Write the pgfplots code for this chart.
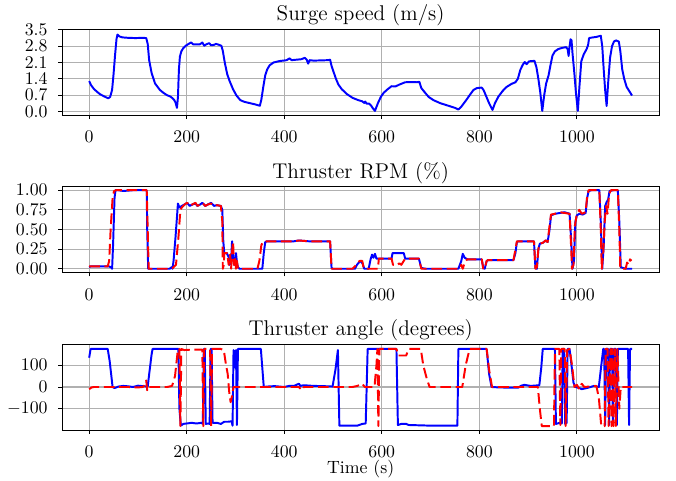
\documentclass[border=0pt]{standalone}
\usepackage{pgfplots}
\pgfplotsset{compat=1.18}
\definecolor{gridgray}{RGB}{176,176,176}
\pgfplotsset{
  every axis title/.style={at={(0.5,1)},anchor=base,yshift=4.5pt,font=\large},
  every axis x label/.style={at={(axis description cs:0.5,0)},anchor=base,yshift=-24.6pt,inner sep=0pt},
  mpl/.style={scale only axis, width=335.98pt, xmin=-55.7, xmax=1169,
    xtick={0,200,400,600,800,1000}, grid=major,
    /pgf/number format/1000 sep={},
    major grid style={gridgray, line width=0.6pt},
    axis line style={line width=0.5pt, black},
    tick align=outside, xtick pos=left, ytick pos=left,
    major tick length=2.1pt, tick style={black, line width=0.5pt},
    xticklabel style={anchor=base, yshift=-13.3pt, inner sep=0pt},
    yticklabel style={xshift=-2.5pt},
    every axis plot/.append style={line width=1.1pt, line join=round}},
  bl/.style={blue},
  rd/.style={red, dash pattern=on 6pt off 2.6pt},
}
\begin{document}
\begin{tikzpicture}
% ---------- Surge speed
\begin{axis}[mpl, at={(34.88pt,205.71pt)}, anchor=south west, height=48.54pt,
  ymin=-0.17, ymax=3.54, ytick={0,0.7,1.4,2.1,2.8,3.5},
  yticklabels={0.0,0.7,1.4,2.1,2.8,3.5},
  title={Surge speed (m/s)}]
\addplot[bl] coordinates {
(0,1.30)(4,1.12)(9,0.98)(15,0.86)(22,0.74)(30,0.65)(39,0.56)(43,0.62)(47,0.92)(50,1.60)
(53,2.40)(56,3.10)(58,3.30)(62,3.22)(68,3.18)(80,3.16)(95,3.15)(110,3.16)(117,3.15)(120,2.90)
(123,2.20)(128,1.65)(135,1.20)(145,0.92)(152,0.80)(159,0.70)(166,0.64)(170,0.58)(174,0.50)(177,0.38)
(180,0.15)(182,0.60)(184,1.80)(186,2.35)(189,2.58)(193,2.72)(198,2.82)(204,2.90)(209,2.96)(213,2.88)
(220,2.88)(227,2.88)(232,2.96)(236,2.82)(240,2.88)(246,2.93)(250,2.84)(256,2.86)(260,2.90)(266,2.86)
(271,2.82)(274,2.60)(278,2.10)(283,1.60)(288,1.30)(295,0.95)(302,0.68)(310,0.48)(318,0.41)(330,0.35)
(340,0.30)(350,0.24)(353,0.50)(357,1.05)(361,1.55)(365,1.80)(370,1.98)(378,2.10)(390,2.16)(405,2.20)
(411,2.28)(415,2.20)(425,2.22)(435,2.24)(442,2.30)(446,2.22)(449,2.05)(452,2.20)(460,2.18)(475,2.19)
(490,2.20)(494,2.22)(497,1.95)(501,1.70)(506,1.40)(511,1.15)(518,0.95)(528,0.75)(540,0.58)(552,0.48)
(560,0.43)(564,0.36)(566,0.42)(569,0.33)(574,0.33)(578,0.25)(582,0.12)(586,0.02)(592,0.35)(598,0.62)
(604,0.80)(612,0.95)(620,1.08)(628,1.07)(636,1.15)(648,1.25)(662,1.26)(672,1.25)(677,1.27)(681,1.00)
(688,0.82)(696,0.62)(706,0.48)(720,0.35)(735,0.25)(750,0.15)(757,0.08)(763,0.20)(772,0.45)(781,0.72)
(788,0.92)(795,1.00)(805,1.02)(809,0.90)(814,0.65)(820,0.35)(827,0.06)(832,0.35)(839,0.63)(848,0.88)
(856,1.05)(866,1.18)(874,1.25)(879,1.40)(884,1.78)(889,2.00)(893,2.12)(897,2.03)(902,2.15)(907,2.16)
(913,2.17)(917,1.90)(921,1.40)(925,0.80)(929,0.02)(933,0.70)(937,1.20)(942,1.55)(946,2.00)(950,2.40)
(955,2.58)(962,2.68)(970,2.73)(978,2.76)(981,2.68)(983,2.38)(985,2.78)(987,3.10)(989,3.05)(991,2.50)
(995,1.60)(998,0.80)(1002,0.02)(1005,1.00)(1009,2.15)(1014,2.45)(1020,2.68)(1023,2.85)(1025,3.15)(1030,3.17)
(1040,3.20)(1049,3.25)(1052,2.80)(1055,1.80)(1058,0.90)(1061,0.23)(1064,1.20)(1068,2.30)(1072,2.80)(1076,3.00)
(1080,3.05)(1086,3.00)(1089,2.60)(1093,1.80)(1097,1.40)(1102,1.05)(1108,0.85)(1113,0.68)
};
\end{axis}
% ---------- Thruster RPM
\begin{axis}[mpl, at={(34.88pt,117.17pt)}, anchor=south west, height=48.6pt,
  ymin=-0.05, ymax=1.05, ytick={0,0.25,0.5,0.75,1},
  yticklabels={0.00,0.25,0.50,0.75,1.00},
  title={Thruster RPM (\%)}]
\addplot[bl] coordinates {
(0,0.02)(3,0.03)(40,0.03)(45,0.02)(47,0.00)(49,0.30)(52,0.90)(54,1.00)(60,1.00)(70,0.99)
(90,1.00)(118,1.00)(119,0.50)(121,0.00)(135,0.00)(165,0.00)(169,0.02)(171,0.00)(173,0.10)(177,0.40)
(182,0.83)(185,0.78)(190,0.80)(196,0.82)(201,0.84)(206,0.80)(212,0.82)(218,0.83)(222,0.80)(228,0.82)
(232,0.84)(238,0.80)(244,0.82)(250,0.84)(256,0.80)(262,0.81)(270,0.80)(273,0.75)(275,0.35)(277,0.20)
(282,0.20)(286,0.15)(288,0.05)(291,0.10)(293,0.35)(295,0.18)(297,0.05)(299,0.10)(301,0.20)(303,0.08)
(305,0.02)(308,0.00)(355,0.00)(358,0.20)(361,0.34)(365,0.35)(420,0.35)(430,0.36)(450,0.35)(494,0.35)
(497,0.01)(500,0.00)(545,0.00)(549,0.05)(553,0.08)(557,0.10)(561,0.06)(564,0.00)(573,0.00)(577,0.12)
(580,0.18)(583,0.14)(586,0.19)(589,0.13)(620,0.13)(622,0.20)(645,0.20)(648,0.13)(676,0.13)(681,0.01)
(690,0.00)(757,0.00)(763,0.10)(766,0.19)(770,0.14)(776,0.12)(805,0.12)(808,0.01)(811,0.00)(815,0.10)
(818,0.11)(870,0.11)(874,0.20)(877,0.34)(880,0.35)(912,0.35)(915,0.01)(918,0.00)(921,0.25)(924,0.32)
(930,0.33)(936,0.36)(940,0.34)(944,0.50)(947,0.68)(955,0.70)(965,0.71)(975,0.72)(985,0.70)(988,0.40)
(991,0.00)(994,0.10)(997,0.60)(1000,0.68)(1005,0.70)(1012,0.69)(1018,0.71)(1021,0.90)(1024,0.99)(1030,1.00)
(1046,1.00)(1049,0.60)(1052,0.00)(1055,0.30)(1058,0.80)(1061,0.85)(1064,0.88)(1067,0.99)(1075,1.00)(1084,1.00)
(1087,0.60)(1090,0.02)(1100,0.00)(1113,0.00)
};
\addplot[rd] coordinates {
(0,0.03)(38,0.03)(41,0.10)(44,0.50)(48,0.90)(51,0.99)(55,1.00)(70,1.00)(100,1.00)(118,1.00)
(120,0.50)(122,0.00)(170,0.00)(178,0.05)(183,0.40)(187,0.75)(190,0.78)(196,0.82)(201,0.84)(206,0.80)
(212,0.82)(218,0.84)(222,0.80)(228,0.82)(232,0.84)(238,0.80)(244,0.82)(250,0.83)(256,0.80)(262,0.81)
(270,0.80)(273,0.60)(274,0.00)(276,0.05)(277,0.20)(283,0.20)(286,0.05)(289,0.18)(291,0.00)(293,0.22)
(295,0.35)(297,0.05)(299,0.15)(301,0.00)(303,0.10)(305,0.00)(345,0.00)(349,0.10)(353,0.30)(357,0.35)
(420,0.35)(430,0.36)(450,0.35)(494,0.35)(497,0.00)(540,0.00)(545,0.03)(550,0.08)(555,0.10)(560,0.10)
(563,0.00)(592,0.00)(594,0.13)(620,0.13)(623,0.05)(630,0.04)(636,0.07)(640,0.05)(645,0.10)(648,0.13)
(676,0.13)(681,0.00)(760,0.00)(763,0.05)(766,0.00)(770,0.08)(775,0.12)(805,0.12)(808,0.00)(811,0.00)
(815,0.10)(818,0.11)(870,0.11)(874,0.25)(877,0.35)(912,0.35)(915,0.00)(918,0.02)(921,0.25)(924,0.32)
(930,0.33)(936,0.36)(940,0.34)(944,0.55)(947,0.69)(955,0.70)(965,0.72)(975,0.71)(985,0.70)(988,0.30)
(990,0.00)(993,0.05)(996,0.55)(1000,0.70)(1005,0.75)(1010,0.70)(1018,0.72)(1021,0.92)(1024,1.00)(1046,1.00)
(1049,0.50)(1051,0.00)(1054,0.20)(1057,0.60)(1060,0.80)(1063,0.70)(1066,0.95)(1070,1.00)(1084,1.00)(1087,0.50)
(1089,0.00)(1100,0.00)(1103,0.08)(1106,0.05)(1109,0.12)(1112,0.10)
};
\end{axis}
% ---------- Thruster angle
\begin{axis}[mpl, at={(34.88pt,28.69pt)}, anchor=south west, height=48.38pt,
  ymin=-198, ymax=198, ytick={-100,0,100},
  yticklabels={$-100$,$0$,$100$},
  title={Thruster angle (degrees)}, xlabel={Time (s)}]
\addplot[bl] coordinates {
(0,135)(3,175)(38,175)(42,120)(46,40)(48,0)(52,-5)(60,2)(70,5)(80,3)
(90,0)(100,6)(110,4)(120,2)(122,40)(128,150)(130,175)(183,175)(185,-100)(188,-178)
(193,-170)(200,-168)(210,-165)(220,-168)(230,-165)(233,-170)(235,175)(237,175)(239,-170)(245,-168)
(247,-170)(249,175)(251,175)(253,-165)(262,-165)(270,-170)(277,-160)(285,-160)(292,-158)(294,-178)
(296,170)(298,100)(299,90)(301,170)(303,-175)(305,175)(310,175)(352,175)(358,0)(365,2)
(380,4)(400,0)(410,5)(420,5)(430,15)(433,5)(440,8)(460,5)(480,4)(499,2)
(505,80)(510,170)(513,-178)(530,-178)(550,-178)(560,-170)(567,-168)(571,175)(580,175)(600,175)
(630,175)(633,-175)(640,-170)(650,-170)(655,-175)(700,-178)(750,-178)(755,-178)(757,175)(780,175)
(815,175)(820,60)(825,0)(840,-2)(860,-3)(880,-3)(885,5)(892,10)(905,5)(923,8)
(927,90)(930,175)(955,175)(957,-170)(965,-165)(969,-168)(971,175)(974,175)(976,-170)(979,-165)
(981,175)(985,175)(989,100)(993,20)(997,0)(1005,-5)(1010,-10)(1020,-5)(1025,-2)(1035,5)
(1045,0)(1048,60)(1054,175)(1056,175)(1058,-175)(1060,175)(1064,175)(1066,-175)(1068,175)(1072,175)
(1074,-175)(1076,175)(1080,175)(1082,-175)(1084,175)(1105,175)(1107,-175)(1109,175)(1113,175)
};
\addplot[rd] coordinates {
(0,-10)(5,-2)(10,0)(50,0)(80,0)(100,-2)(110,0)(115,10)(117,30)(119,-15)
(121,0)(160,0)(170,5)(176,50)(182,175)(185,175)(187,-180)(189,175)(195,170)(210,172)
(232,172)(234,-180)(236,175)(238,175)(248,175)(250,-180)(252,175)(258,175)(270,175)(276,170)
(280,110)(284,60)(287,-20)(290,-70)(293,-40)(296,0)(305,0)(400,0)(430,0)(436,-15)
(440,0)(500,0)(540,0)(550,5)(560,15)(565,0)(585,0)(589,100)(591,175)(593,-180)
(595,175)(620,175)(630,175)(634,145)(650,145)(655,175)(680,175)(685,100)(692,40)(698,0)
(765,0)(772,100)(780,175)(815,175)(820,80)(826,0)(920,0)(924,-100)(928,-180)(950,-180)
(953,-180)(955,175)(964,175)(966,-175)(968,175)(975,175)(977,-180)(980,170)(985,175)(990,100)
(995,0)(1000,10)(1005,-10)(1010,15)(1015,0)(1040,5)(1045,-50)(1050,-180)(1057,-180)(1059,175)
(1063,175)(1065,-180)(1069,175)(1071,-180)(1073,175)(1075,-180)(1078,175)(1080,-180)(1083,175)(1087,-100)
(1090,0)(1113,0)
};
\end{axis}
\pgfresetboundingbox
\path[use as bounding box] (0,0) rectangle (380.25pt,270.56pt);
\end{tikzpicture}
\end{document}
